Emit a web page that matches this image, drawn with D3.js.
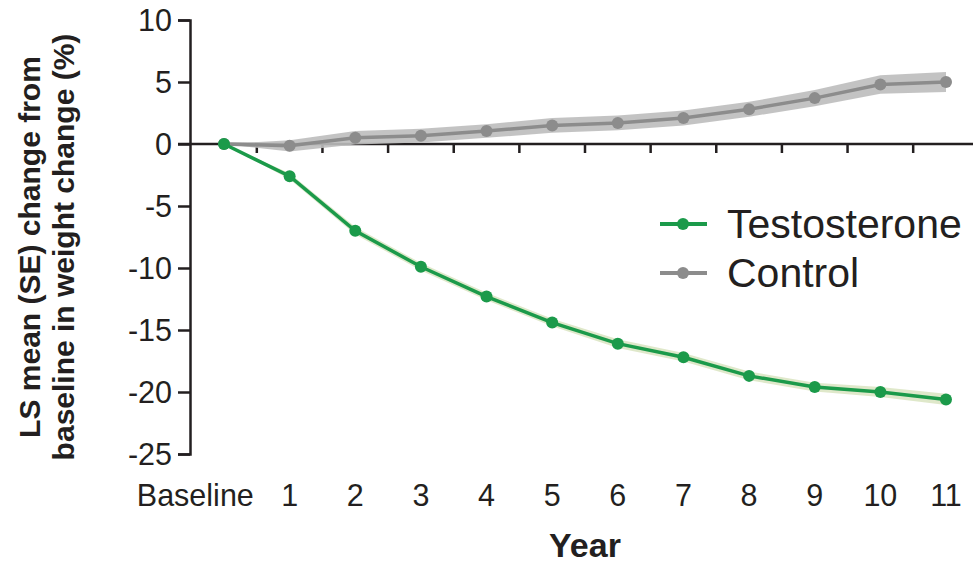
<!DOCTYPE html>
<html>
<head>
<meta charset="utf-8">
<script src="https://cdn.jsdelivr.net/npm/d3@7"></script>
<style>
  html, body { margin: 0; padding: 0; background: #fff; }
  svg { display: block; font-family: "Liberation Sans", Arial, sans-serif; }
</style>
</head>
<body>
<svg id="chart" width="973" height="565"></svg>
<script>
// ---- Data ----
const categories = ["Baseline", "1", "2", "3", "4", "5", "6", "7", "8", "9", "10", "11"];
const testosterone = [0, -2.6, -7.0, -9.9, -12.3, -14.4, -16.1, -17.2, -18.7, -19.6, -20.0, -20.6];
const testosteroneSE = [0, 0.25, 0.3, 0.3, 0.3, 0.3, 0.35, 0.35, 0.35, 0.35, 0.4, 0.45];
const control = [0, -0.15, 0.5, 0.67, 1.05, 1.5, 1.7, 2.1, 2.8, 3.7, 4.8, 5.0];
const controlSE = [0, 0.45, 0.55, 0.55, 0.55, 0.6, 0.6, 0.6, 0.6, 0.65, 0.75, 0.8];
const yTicks = [10, 5, 0, -5, -10, -15, -20, -25];
const seriesNames = ["Testosterone", "Control"];

// ---- Layout ----
const svg = d3.select("#chart");
const x = d3.scalePoint().domain(categories).range([224, 946]);
const y = d3.scaleLinear().domain([-25, 10]).range([454, 20]);
const step = x.step();
const axisX = 190;
const ink = "#231f20";

const colors = {
  Testosterone: { line: "#1b9a4a", band: "#dce6c4" },
  Control: { line: "#8c8c8c", band: "#bdbdbd" }
};

// ---- Y axis ----
const yAxis = d3.axisLeft(y).tickValues(yTicks).tickSize(12).tickPadding(6)
  .tickFormat(d => String(d));
const gy = svg.append("g").attr("transform", `translate(${axisX},0)`).call(yAxis);
gy.select(".domain").attr("stroke", ink).attr("stroke-width", 2.5);
gy.selectAll(".tick line").attr("stroke", ink).attr("stroke-width", 2.5);
gy.selectAll(".tick text").attr("fill", ink).attr("font-size", 30.5)
  .attr("font-family", "'Liberation Sans', Arial, sans-serif")
  .attr("dy", "0.35em");

// ---- Zero line with ticks between categories ----
const zeroY = y(0);
svg.append("line")
  .attr("x1", axisX - 12).attr("x2", 973)
  .attr("y1", zeroY).attr("y2", zeroY)
  .attr("stroke", ink).attr("stroke-width", 2.5);
const mids = categories.slice(1).map(c => x(c) - step / 2);
svg.append("g").selectAll("line").data(mids).join("line")
  .attr("x1", d => d).attr("x2", d => d)
  .attr("y1", zeroY).attr("y2", zeroY + 9)
  .attr("stroke", ink).attr("stroke-width", 2.5);

// ---- X category labels ----
svg.append("g").selectAll("text").data(categories).join("text")
  .attr("x", (d, i) => i === 0 ? x(d) + step / 2 - 3 : x(d))
  .attr("y", 506)
  .attr("text-anchor", (d, i) => i === 0 ? "end" : "middle")
  .attr("font-size", 30.5)
  .attr("fill", ink)
  .text(d => d);

// ---- Series ----
function drawSeries(name, vals, se) {
  const data = vals.map((v, i) => ({ c: categories[i], v, se: se[i] }));
  const area = d3.area()
    .x(d => x(d.c))
    .y0(d => y(d.v - d.se))
    .y1(d => y(d.v + d.se));
  const line = d3.line().x(d => x(d.c)).y(d => y(d.v));
  svg.append("path").datum(data).attr("d", area)
    .attr("fill", colors[name].band).attr("opacity", 0.9);
  svg.append("path").datum(data).attr("d", line)
    .attr("fill", "none").attr("stroke", colors[name].line).attr("stroke-width", 3.5);
  svg.append("g").selectAll("circle").data(data).join("circle")
    .attr("cx", d => x(d.c)).attr("cy", d => y(d.v)).attr("r", 6)
    .attr("fill", colors[name].line);
}
drawSeries("Control", control, controlSE);
drawSeries("Testosterone", testosterone, testosteroneSE);

// ---- Legend ----
const legend = svg.append("g");
seriesNames.forEach((name, i) => {
  const ly = 224 + i * 49;
  legend.append("line").attr("x1", 660).attr("x2", 707).attr("y1", ly).attr("y2", ly)
    .attr("stroke", colors[name].line).attr("stroke-width", 4);
  legend.append("circle").attr("cx", 683).attr("cy", ly).attr("r", 6)
    .attr("fill", colors[name].line);
  legend.append("text").attr("x", 727).attr("y", ly + 14)
    .attr("font-size", 41).attr("fill", ink).text(name);
});

// ---- Axis titles ----
svg.append("text").attr("x", 585).attr("y", 557).attr("text-anchor", "middle")
  .attr("font-size", 34).attr("font-weight", "bold").attr("fill", ink).text("Year");

const yt = svg.append("text")
  .attr("transform", "translate(0,247) rotate(-90)")
  .attr("text-anchor", "middle")
  .attr("font-size", 30).attr("font-weight", "bold").attr("fill", ink);
yt.append("tspan").attr("x", 0).attr("y", 40).text("LS mean (SE) change from");
yt.append("tspan").attr("x", 0).attr("y", 74).text("baseline in weight change (%)");
</script>
</body>
</html>
